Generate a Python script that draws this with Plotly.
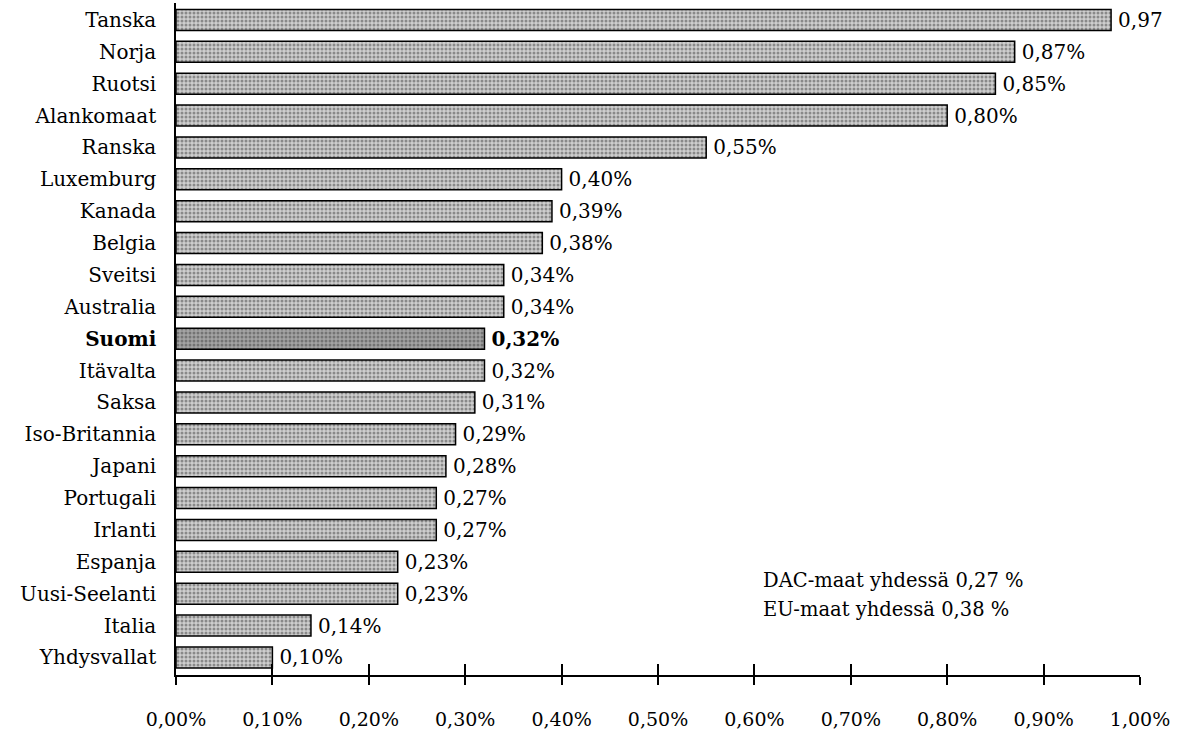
import plotly.graph_objects as go

countries = ["Tanska", "Norja", "Ruotsi", "Alankomaat", "Ranska", "Luxemburg", "Kanada",
             "Belgia", "Sveitsi", "Australia", "Suomi", "Itävalta", "Saksa", "Iso-Britannia",
             "Japani", "Portugali", "Irlanti", "Espanja", "Uusi-Seelanti", "Italia", "Yhdysvallat"]
values = [0.97, 0.87, 0.85, 0.80, 0.55, 0.40, 0.39, 0.38, 0.34, 0.34, 0.32, 0.32, 0.31, 0.29,
          0.28, 0.27, 0.27, 0.23, 0.23, 0.14, 0.10]
value_labels = ["0,97", "0,87%", "0,85%", "0,80%", "0,55%", "0,40%", "0,39%", "0,38%", "0,34%",
                "0,34%", "0,32%", "0,32%", "0,31%", "0,29%", "0,28%", "0,27%", "0,27%", "0,23%",
                "0,23%", "0,14%", "0,10%"]
highlight = "Suomi"
x_tickvals = [0.0, 0.1, 0.2, 0.3, 0.4, 0.5, 0.6, 0.7, 0.8, 0.9, 1.0]
x_ticktext = ["0,00%", "0,10%", "0,20%", "0,30%", "0,40%", "0,50%", "0,60%", "0,70%",
              "0,80%", "0,90%", "1,00%"]
notes = ["DAC-maat yhdessä 0,27 %", "EU-maat yhdessä 0,38 %"]

FONT = "DejaVu Serif"
FS = 20

texts = [("<b>%s</b>" % t if c == highlight else t) for c, t in zip(countries, value_labels)]
ytext = [("<b>%s</b>" % c if c == highlight else c) for c in countries]
bg = ["#a4a4a4" if c == highlight else "#cecece" for c in countries]
fg = ["#666666" if c == highlight else "#8e8e8e" for c in countries]

fig = go.Figure()
fig.add_trace(go.Bar(
    x=values, y=countries, orientation="h",
    width=0.66,
    marker=dict(
        color=bg,
        line=dict(color="black", width=1.5),
        pattern=dict(shape=".", fgcolor=fg, bgcolor=bg, size=4, solidity=0.45),
    ),
    text=["\u2009" + t for t in texts], textposition="outside",
    textfont=dict(family=FONT, size=20, color="black"),
    constraintext="none",
    cliponaxis=False,
    hoverinfo="skip",
))

fig.update_layout(
    width=1194, height=733,
    margin=dict(l=176, r=54, t=3, b=54),
    paper_bgcolor="white", plot_bgcolor="white",
    showlegend=False,
    font=dict(family=FONT, size=FS, color="black"),
    xaxis=dict(
        range=[0, 1.0], tickmode="array", tickvals=x_tickvals, ticktext=x_ticktext,
        showline=True, linecolor="black", linewidth=1.5,
        ticks="outside", ticklen=8, tickwidth=1.5, tickcolor="black",
        showgrid=False, zeroline=False, ticklabelstandoff=18,
        tickfont=dict(family=FONT, size=19, color="black"),
    ),
    xaxis2=dict(
        range=[0, 1.0], overlaying="x", anchor="y", side="bottom",
        tickmode="array", tickvals=x_tickvals, showticklabels=False,
        ticks="inside", ticklen=11, tickwidth=1.5, tickcolor="black",
        showgrid=False, zeroline=False, showline=False,
    ),
    yaxis=dict(
        type="category", categoryorder="array", categoryarray=countries,
        range=[20.55, -0.53], tickmode="array", tickvals=countries, ticktext=ytext,
        showline=True, linecolor="black", linewidth=1.5,
        ticks="", showgrid=False, zeroline=False, ticklabelstandoff=14,
        tickfont=dict(family=FONT, size=FS, color="black"),
    ),
)

# invisible trace so that the overlaid axis (inner tick halves) is drawn
fig.add_trace(go.Scatter(x=[0], y=[countries[0]], xaxis="x2", mode="markers",
                         marker=dict(opacity=0), hoverinfo="skip", showlegend=False))

for i, n in enumerate(notes):
    fig.add_annotation(x=0.607, y=0.141 - i * 0.043, xref="x", yref="paper",
                       text=n, showarrow=False, xanchor="left", yanchor="middle",
                       font=dict(family=FONT, size=19.5, color="black"))

fig.write_html("out.html", config={"displayModeBar": False},
               post_script="document.body.style.margin='0';")
